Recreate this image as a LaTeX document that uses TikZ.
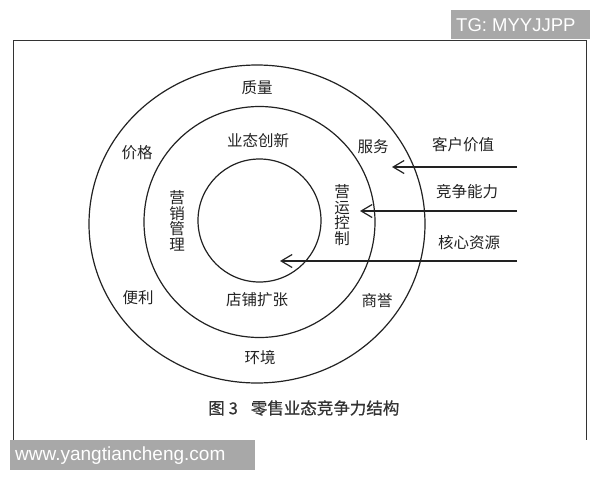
\documentclass[tikz,border=0pt]{standalone}
\usepackage{fontspec}
\setmainfont{Liberation Sans}
\newfontfamily\cjk{Noto Sans CJK SC}
\newfontfamily\cjkcap[FakeBold=0.6]{Noto Sans CJK SC}
\usepackage{xcolor}
\usepackage{tikz}
\usetikzlibrary{positioning,arrows.meta,shapes.geometric}

\definecolor{ink}{HTML}{222222}
\definecolor{capink}{HTML}{333333}
\definecolor{markgray}{HTML}{A8A8A8}

\tikzset{
    ring/.style={draw=ink, line width=1.2pt, inner sep=0pt},
    lbl/.style={font=\cjk\fontsize{15.5}{15.5}\selectfont, text=ink, inner sep=0pt},
    vlbl/.style={lbl, align=center},
    force/.style={draw=ink, line width=1.2pt, -{Straight Barb[length=11pt,width=13pt,line width=1.2pt]}},
    stamp/.style={fill=markgray, inner sep=0pt, anchor=north west},
    stamptext/.style={text=white, inner sep=0pt, anchor=west},
}

\begin{document}
\begin{tikzpicture}[x=1pt,y=-1pt]
    \useasboundingbox (0,0) rectangle (600,480);
    % frame
    \draw[capink, line width=0.9pt] (13,440) -- (13,40.5) -- (586,40.5) -- (586,440);
    % rings
    \node[ring, ellipse, minimum width=336pt, minimum height=318pt] (outer) at (257,224) {};
    \node[ring, circle, minimum size=231pt] (mid) at (259.5,222) {};
    \node[ring, circle, minimum size=123pt] (core) at (259.5,220.5) {};
    % outer ring
    \node[lbl] (quality) at (257,88) {质量};
    \node[lbl] (price) at (137,153) {价格};
    \node[lbl] (service) at (373,147) {服务};
    \node[lbl] (ease) at (138,298) {便利};
    \node[lbl] (repute) at (377,301) {商誉};
    \node[lbl] (env) at (260,358) {环境};
    % middle ring
    \node[lbl] (innov) at (258,141) {业态创新};
    \node[lbl] (expand) at (257,300) {店铺扩张};
    \node[vlbl] (mkt) at (177,221) {营\\销\\管\\理};
    \node[vlbl] (ops) at (342,215) {营\\运\\控\\制};
    % forces
    \coordinate (cv) at (517,167);
    \coordinate (cvtip) at (392,167);
    \coordinate (cc) at (517,211);
    \coordinate (cctip) at (360,211);
    \coordinate (cr) at (517,261);
    \coordinate (crtip) at (280,261);
    \draw[force] (cv) -- (cvtip);
    \draw[force] (cc) -- (cctip);
    \draw[force] (cr) -- (crtip);
    \node[lbl] (value) at (463,145) {客户价值};
    \node[lbl] (ability) at (467,192) {竞争能力};
    \node[lbl] (resource) at (469,243) {核心资源};
    % caption
    \node[lbl, text=capink, anchor=west, font=\cjkcap\fontsize{16.5}{16.5}\selectfont] (cap) at (208,408)
        {图\hspace{4pt}3\hspace{13pt}零售业态竞争力结构};
    % marks
    \node[stamp, minimum width=139pt, minimum height=29pt] (tg) at (451,10) {};
    \node[stamptext, font=\fontsize{18.5}{18.5}\selectfont] at ([xshift=5pt]tg.west) {TG: MYYJJPP};
    \node[stamp, minimum width=245pt, minimum height=30pt] (web) at (10,440) {};
    \node[stamptext, font=\fontsize{19}{19}\selectfont] at ([xshift=5pt]web.west) {www.yangtiancheng.com};
\end{tikzpicture}
\end{document}
